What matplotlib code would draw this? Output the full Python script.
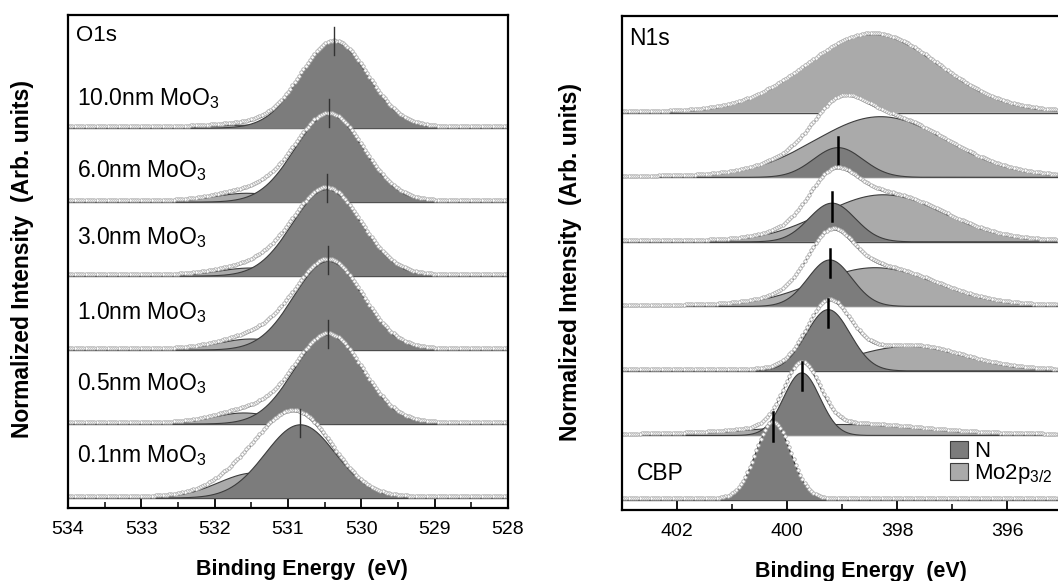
import numpy as np
import matplotlib
matplotlib.use("Agg")
import matplotlib.pyplot as plt
from matplotlib.patches import Patch
from matplotlib.ticker import MultipleLocator, FixedLocator

plt.rcParams['font.family'] = ['Liberation Sans', 'DejaVu Sans']
plt.rcParams['mathtext.fontset'] = 'custom'
plt.rcParams['mathtext.rm'] = 'Liberation Sans'
plt.rcParams['mathtext.it'] = 'Liberation Sans:italic'
plt.rcParams['mathtext.bf'] = 'Liberation Sans:bold'

# ---------------- O1s data (top to bottom) ----------------
o1s_labels = ["10.0nm MoO$_3$", "6.0nm MoO$_3$", "3.0nm MoO$_3$",
              "1.0nm MoO$_3$", "0.5nm MoO$_3$", "0.1nm MoO$_3$"]
o1s_main_center = [530.37, 530.44, 530.47, 530.45, 530.45, 530.83]
o1s_main_height = [1.16, 1.18, 1.17, 1.20, 1.20, 0.99]
o1s_main_sigma = [0.46, 0.47, 0.47, 0.47, 0.47, 0.48]
o1s_side_center = [531.60, 531.56, 531.50, 531.50, 531.60, 531.45]
o1s_side_height = [0.04, 0.12, 0.11, 0.15, 0.15, 0.34]
o1s_side_sigma = [0.45, 0.45, 0.45, 0.45, 0.42, 0.50]
o1s_ticks = [534, 533, 532, 531, 530, 529, 528]

# ---------------- N1s data (top to bottom) ----------------
n1s_labels = ["", "", "", "", "", "", "CBP"]
n_center = [399.00, 399.07, 399.18, 399.22, 399.25, 399.73, 400.25]
n_height = [0.00, 0.46, 0.60, 0.72, 0.95, 0.97, 1.19]
n_sigma = [0.45, 0.45, 0.42, 0.40, 0.40, 0.33, 0.32]
mo_center = [398.44, 398.30, 398.25, 398.40, 397.80, 399.00, 398.00]
mo_height = [1.21, 0.94, 0.73, 0.60, 0.38, 0.17, 0.00]
mo_sigma = [1.20, 1.20, 1.10, 1.10, 1.00, 1.40, 1.00]
n1s_ticks = [402, 400, 398, 396]
legend_labels = ["N", "Mo2p$_\\mathregular{3/2}$"]

# ---------------- styles ----------------
DARK = '#7c7c7c'
LIGHT = '#aaaaaa'
EDGE = '#3c3c3c'
BASE = '#4a4a4a'
CIRC = '#a4a4a4'


def gauss(x, c, h, s):
    return h * np.exp(-0.5 * ((x - c) / s) ** 2)


def draw_stack(ax, xlim, mainc, mainh, mains, sidec, sideh, sides,
               step, mk_color, mk_lw, mk_off, mk_half):
    n = len(mainc)
    x = np.linspace(min(xlim), max(xlim), 1000)
    xd = np.arange(min(xlim), max(xlim) + 1e-9, step)
    for k in range(n):
        off = n - 1 - k
        z = 10 + 10 * k
        main = gauss(x, mainc[k], mainh[k], mains[k])
        side = gauss(x, sidec[k], sideh[k], sides[k])
        env = main + side
        envd = gauss(xd, mainc[k], mainh[k], mains[k]) + gauss(xd, sidec[k], sideh[k], sides[k])
        ax.axhline(off, color=BASE, lw=1.7, zorder=z)
        ax.fill_between(x, off, off + env, facecolor='white', edgecolor='none', zorder=z + 1)
        ax.plot(x, off + env, color=EDGE, lw=0.8, zorder=z + 1.5)
        if sideh[k] > 0:
            ax.fill_between(x, off, off + side, facecolor=LIGHT, edgecolor='none', zorder=z + 2)
            ax.plot(x, off + side, color=EDGE, lw=0.8, zorder=z + 2.5)
        if mainh[k] > 0:
            ax.fill_between(x, off, off + main, facecolor=DARK, edgecolor='none', zorder=z + 3)
            ax.plot(x, off + main, color=EDGE, lw=0.8, zorder=z + 3.5)
        ax.plot(xd, off + envd + 0.025, 'o', ms=2.5, mfc='white', mec=CIRC, mew=0.55,
                linestyle='none', zorder=z + 4)
        if mainh[k] > 0:
            yc = off + mainh[k] + mk_off
            ax.plot([mainc[k], mainc[k]], [yc - mk_half, yc + mk_half],
                    color=mk_color, lw=mk_lw, zorder=z + 5)


W, H = 1058, 581
fig = plt.figure(figsize=(W / 100, H / 100), dpi=100)

axL = fig.add_axes([68 / W, 1 - 508 / H, 440 / W, 493 / H])
axR = fig.add_axes([622 / W, 1 - 510 / H, 440 / W, 494 / H])

# ---- left panel ----
xlimL = (534, 528)
draw_stack(axL, xlimL, o1s_main_center, o1s_main_height, o1s_main_sigma,
           o1s_side_center, o1s_side_height, o1s_side_sigma,
           0.03, '#333333', 1.0, 0.02, 0.19)
axL.set_xlim(*xlimL)
axL.set_ylim(-0.135, 6.53)
axL.xaxis.set_major_locator(FixedLocator(o1s_ticks))
axL.xaxis.set_minor_locator(MultipleLocator(0.5))
lab_yL = [0.31, 0.34, 0.43, 0.42, 0.46, 0.49]
nL = len(o1s_labels)
for k, lab in enumerate(o1s_labels):
    axL.text(533.88, nL - 1 - k + lab_yL[k], lab.replace('$_3$', '$_\\mathregular{3}$'),
             fontsize=16.5, ha='left', va='baseline', zorder=200)
axL.text(533.89, 6.39, "O1s", fontsize=16, ha='left', va='top', zorder=200)

# ---- right panel ----
xlimR = (403, 395)
draw_stack(axR, xlimR, n_center, n_height, n_sigma,
           mo_center, mo_height, mo_sigma,
           0.04, 'black', 1.8, -0.05, 0.22)
axR.set_xlim(*xlimR)
axR.set_ylim(-0.155, 7.5)
axR.xaxis.set_major_locator(FixedLocator(n1s_ticks))
axR.xaxis.set_minor_locator(MultipleLocator(1))
axR.text(402.73, 0.31, n1s_labels[-1], fontsize=16.5, ha='left', va='baseline', zorder=200)
axR.text(402.87, 7.33, "N1s", fontsize=16.5, ha='left', va='top', zorder=200)

handles = [Patch(facecolor=DARK, edgecolor=EDGE, lw=0.8),
           Patch(facecolor=LIGHT, edgecolor=EDGE, lw=0.8)]
leg = axR.legend(handles, legend_labels, loc='upper left',
                 bbox_to_anchor=(0.745, 0.14), frameon=False, fontsize=16,
                 handlelength=0.8, handleheight=0.8, handletextpad=0.3,
                 labelspacing=0.0, borderpad=0, borderaxespad=0)
leg.set_zorder(300)

for ax in (axL, axR):
    ax.set_yticks([])
    for sp in ax.spines.values():
        sp.set_linewidth(1.6)
        sp.set_color('black')
        sp.set_zorder(250)
    ax.tick_params(axis='x', which='major', direction='in', length=7, width=1.3,
                   top=False, labelsize=14, pad=9)
    ax.tick_params(axis='x', which='minor', direction='in', length=4, width=1.1, top=False)

fig.text(23 / W, 1 - 259 / H, "Normalized Intensity  (Arb. units)", rotation=90,
         ha='center', va='center', fontsize=16.5, fontweight='bold')
fig.text(570 / W, 1 - 262 / H, "Normalized Intensity  (Arb. units)", rotation=90,
         ha='center', va='center', fontsize=16.5, fontweight='bold')
fig.text(302 / W, 1 - 570 / H, "Binding Energy  (eV)", ha='center', va='center',
         fontsize=15.5, fontweight='bold')
fig.text(861 / W, 1 - 571 / H, "Binding Energy  (eV)", ha='center', va='center',
         fontsize=15.5, fontweight='bold')

fig.savefig("out.png", dpi=100)
